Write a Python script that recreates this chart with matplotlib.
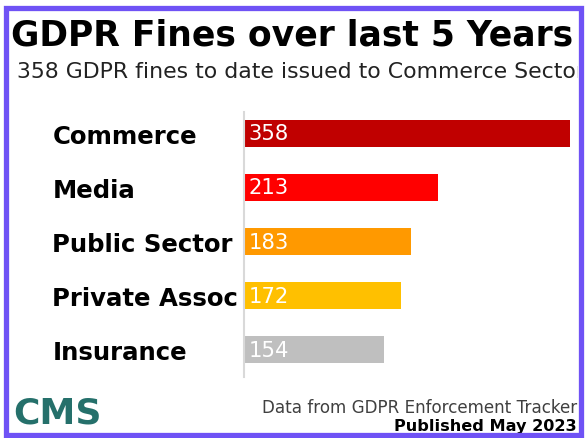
import matplotlib
matplotlib.use("Agg")
import matplotlib.pyplot as plt
from matplotlib.patches import Rectangle
from matplotlib.transforms import Bbox, TransformedBbox

categories = ["Commerce", "Media", "Public Sector", "Private Assoc", "Insurance"]
values = [358, 213, 183, 172, 154]
colors = ["#C00000", "#FF0000", "#FF9900", "#FFC000", "#BFBFBF"]

title = "GDPR Fines over last 5 Years"
subtitle = "358 GDPR fines to date issued to Commerce Sector"
source = "Data from GDPR Enforcement Tracker"
published = "Published May 2023"
logo = "CMS"

W, H = 588, 439
fig = plt.figure(figsize=(W / 100, H / 100), dpi=100)
fig.patch.set_facecolor("white")

def fx(px):
    return px / W

def fy(py):
    return 1 - py / H

ax = fig.add_axes([fx(244), fy(378), fx(570) - fx(244), fy(113) - fy(378)])
ypos = list(range(len(categories)))
ax.barh(ypos, values, height=0.5, color=colors)
ax.set_xlim(0, 358)
ax.set_ylim(4.509, -0.398)
ax.set_xticks([])
ax.set_yticks(ypos)
ax.set_yticklabels(categories, fontsize=17.6, fontweight="bold", ha="left")
ax.tick_params(axis="y", length=0, pad=138)
for s in ["top", "right", "bottom"]:
    ax.spines[s].set_visible(False)
ax.spines["left"].set_color("#D9D9D9")
ax.spines["left"].set_linewidth(1.5)
for i, v in enumerate(values):
    ax.annotate(str(v), (0, i), xytext=(3.5, 0), textcoords="offset points",
                va="center", ha="left", color="white", fontsize=15.2)

clip = TransformedBbox(Bbox.from_extents(fx(8), fy(432), fx(578), fy(12)), fig.transFigure)

t1 = fig.text(fx(11), fy(46), title, fontsize=24.9, fontweight="bold",
              ha="left", va="baseline", color="black")
t2 = fig.text(fx(17), fy(78.3), subtitle, fontsize=15.8,
              ha="left", va="baseline", color="#222222")
for t in (t1, t2):
    t.set_clip_on(True)
    t.set_clip_box(clip)

fig.text(fx(577), fy(413), source, fontsize=12.1, ha="right", va="baseline", color="#404040")
fig.text(fx(577), fy(431.5), published, fontsize=11.6, fontweight="bold",
         ha="right", va="baseline", color="black")
fig.text(fx(13), fy(424), logo, fontsize=26, fontweight="bold",
         ha="left", va="baseline", color="#25706B")

border = Rectangle((fx(5.5), fy(435.5)), fx(581) - fx(5.5), fy(9) - fy(435.5),
                   transform=fig.transFigure, fill=False, edgecolor="#6F52F5",
                   linewidth=3.8, zorder=10)
fig.patches.append(border)

fig.savefig("out.png", dpi=100, facecolor="white")
